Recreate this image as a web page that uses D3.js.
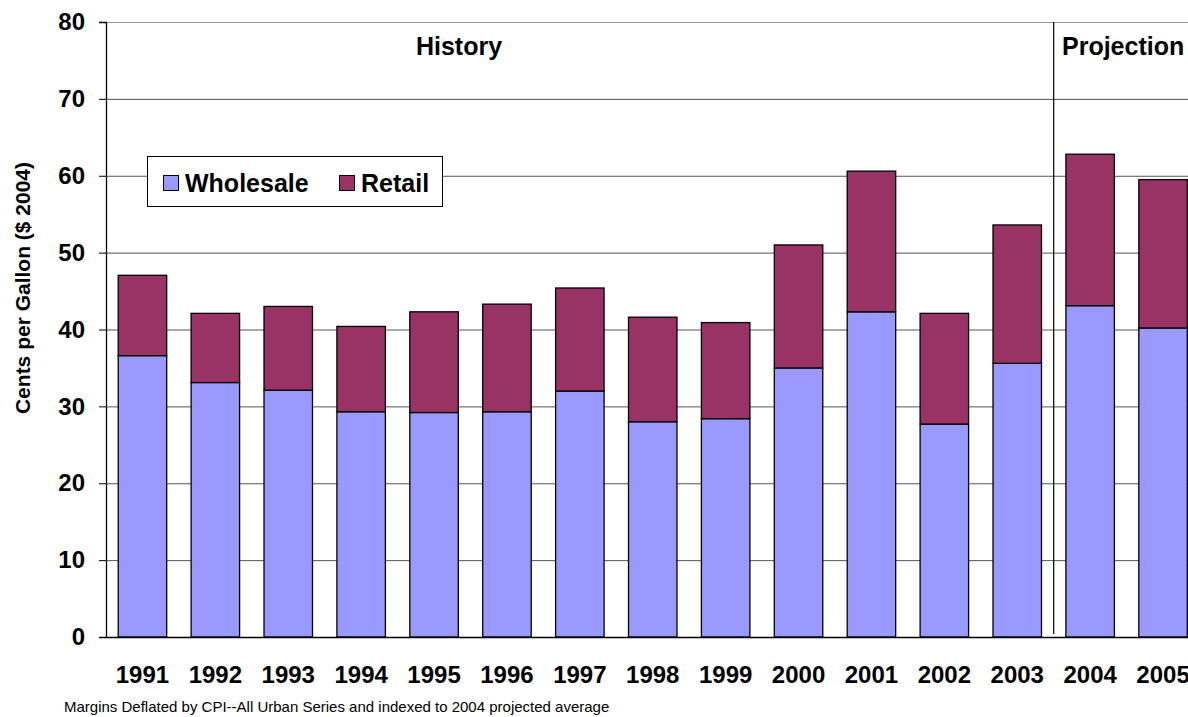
<!DOCTYPE html>
<html>
<head>
<meta charset="utf-8">
<script src="https://cdn.jsdelivr.net/npm/d3@7"></script>
<style>
  body { margin: 0; background: #fff; }
  svg { display: block; font-family: "Liberation Sans", Arial, sans-serif; }
</style>
</head>
<body>
<svg id="chart"></svg>
<script>
// chart values
const years = ['1991','1992','1993','1994','1995','1996','1997','1998','1999','2000','2001','2002','2003','2004','2005'];
const wholesale = [36.6, 33.1, 32.1, 29.3, 29.2, 29.3, 32.0, 28.0, 28.4, 35.0, 42.3, 27.7, 35.6, 43.1, 40.2];
const retail = [10.45, 9.0, 10.9, 11.1, 13.1, 14.0, 13.4, 13.6, 12.5, 16.0, 18.3, 14.4, 18.0, 19.7, 19.3];
const seriesNames = ['Wholesale', 'Retail'];
const yTicks = [0, 10, 20, 30, 40, 50, 60, 70, 80];

const w = 1188;
const h = 717;
const plotLeft = 106, plotTop = 22, plotBottom = 637, plotRight = 1199.5;
const colors = { Wholesale: '#9999ff', Retail: '#993366' };

const svg = d3.select('#chart')
    .attr('width', w)
    .attr('height', h);

const rows = years.map((yr, i) => ({ year: yr, Wholesale: wholesale[i], Retail: retail[i] }));

const x = d3.scaleBand()
    .domain(years)
    .range([plotLeft, plotRight])
    .paddingInner(0.335)
    .paddingOuter(0.1675);

const y = d3.scaleLinear()
    .domain([0, 80])
    .range([plotBottom, plotTop]);

//gridlines
svg.append('g')
    .selectAll('line')
    .data(yTicks.filter(d => d > 0))
    .enter()
    .append('line')
    .attr('x1', plotLeft)
    .attr('x2', w)
    .attr('y1', d => y(d) + 0.5)
    .attr('y2', d => y(d) + 0.5)
    .attr('stroke', d => d === 80 ? '#999' : '#555')
    .attr('stroke-width', 1);

//stacked bars
const stack = d3.stack().keys(seriesNames)(rows);

svg.append('g')
    .selectAll('g')
    .data(stack)
    .enter()
    .append('g')
    .attr('fill', d => colors[d.key])
    .selectAll('rect')
    .data(d => d)
    .enter()
    .append('rect')
    .attr('x', d => x(d.data.year))
    .attr('width', x.bandwidth())
    .attr('y', d => y(d[1]))
    .attr('height', d => y(d[0]) - y(d[1]))
    .attr('stroke', '#000')
    .attr('stroke-width', 1.3);

//history / projection divider
const divX = (x('2003') + x.bandwidth() + x('2004')) / 2;
svg.append('line')
    .attr('x1', divX).attr('x2', divX)
    .attr('y1', plotTop).attr('y2', plotBottom - 3)
    .attr('stroke', '#000')
    .attr('stroke-width', 1.2);

svg.append('text')
    .attr('x', 459)
    .attr('y', 55)
    .attr('text-anchor', 'middle')
    .style('font-size', '25px')
    .style('font-weight', 'bold')
    .text('History');

svg.append('text')
    .attr('x', 1062)
    .attr('y', 55)
    .style('font-size', '25px')
    .style('font-weight', 'bold')
    .text('Projection');

//y axis
const yAxis = d3.axisLeft(y)
    .tickValues(yTicks)
    .tickSize(7)
    .tickPadding(14);
const gy = svg.append('g')
    .attr('transform', 'translate(' + plotLeft + ',0)')
    .call(yAxis);
gy.select('.domain').attr('stroke', '#000').attr('stroke-width', 1.3);
gy.selectAll('.tick line').attr('stroke', '#000');
gy.selectAll('.tick text')
    .style('font-size', '24px')
    .style('font-weight', 'bold')
    .style('font-family', '"Liberation Sans", Arial, sans-serif')
    .attr('fill', '#000');

//x axis
const xAxis = d3.axisBottom(x).tickSize(0).tickPadding(29);
const gx = svg.append('g')
    .attr('transform', 'translate(0,' + plotBottom + ')')
    .call(xAxis);
gx.select('.domain').attr('stroke', '#000').attr('stroke-width', 1.3);
gx.selectAll('.tick text')
    .style('font-size', '24px')
    .style('font-weight', 'bold')
    .style('font-family', '"Liberation Sans", Arial, sans-serif')
    .attr('fill', '#000');

//y title
svg.append('text')
    .attr('transform', 'translate(30,288) rotate(-90)')
    .attr('text-anchor', 'middle')
    .style('font-size', '21px')
    .style('font-weight', 'bold')
    .text('Cents per Gallon ($ 2004)');

//legend
const legend = svg.append('g').attr('id', 'legend');
legend.append('rect')
    .attr('x', 147.5).attr('y', 156.5)
    .attr('width', 295).attr('height', 50)
    .attr('fill', '#fff')
    .attr('stroke', '#000');
const legendX = [163, 339];
seriesNames.forEach((name, i) => {
    legend.append('rect')
        .attr('x', legendX[i] + 0.5).attr('y', 175.5)
        .attr('width', 15).attr('height', 15)
        .attr('fill', colors[name])
        .attr('stroke', '#000');
    legend.append('text')
        .attr('x', legendX[i] + 22)
        .attr('y', 192)
        .style('font-size', '25px')
        .style('font-weight', 'bold')
        .text(name);
});

//footnote
svg.append('text')
    .attr('x', 64)
    .attr('y', 712)
    .style('font-size', '15px')
    .text('Margins Deflated by CPI--All Urban Series and indexed to 2004 projected average');
</script>
</body>
</html>
